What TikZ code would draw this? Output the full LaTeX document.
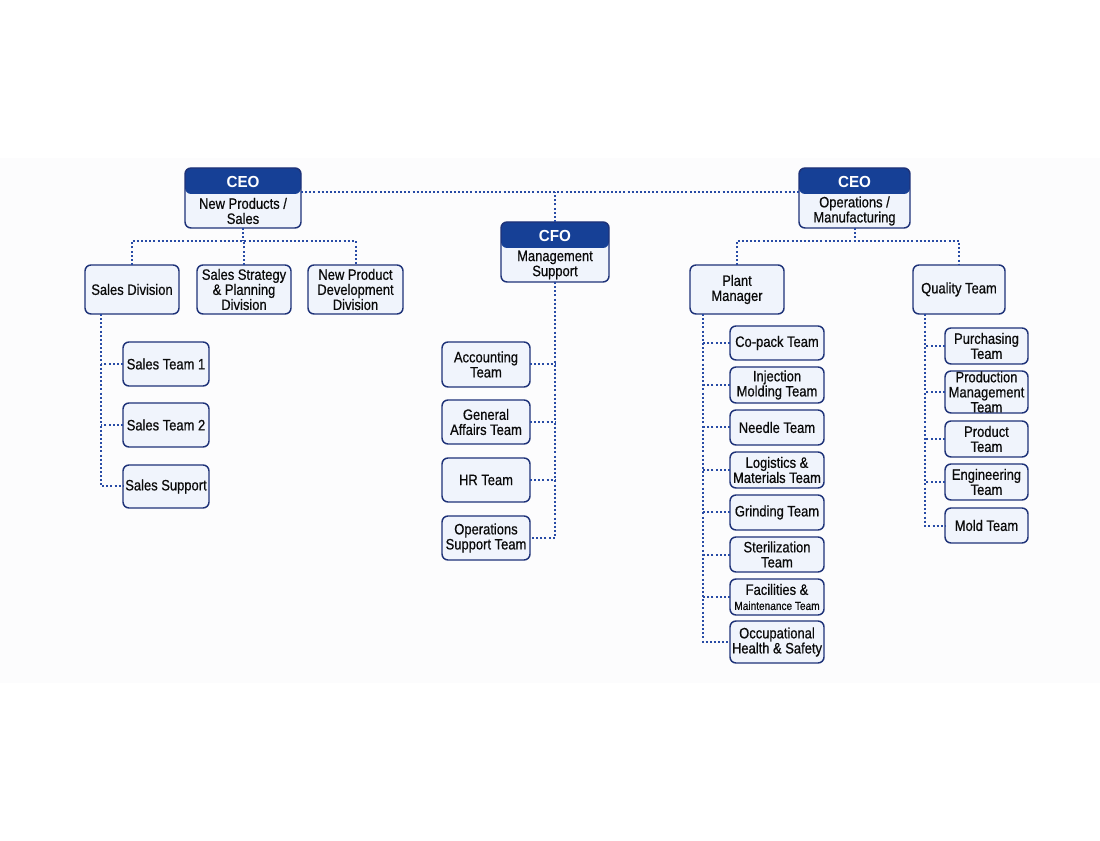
\documentclass[tikz,border=0pt]{standalone}
\usepackage{fontspec}
\setmainfont[FakeStretch=0.86,FakeBold=0.6]{Liberation Sans}
\newfontfamily\hfont[FakeStretch=0.95]{Liberation Sans}
\usetikzlibrary{calc}
\definecolor{hdr}{RGB}{22,64,150}
\definecolor{bfill}{RGB}{240,244,252}
\definecolor{bdraw}{RGB}{30,50,120}
\definecolor{lnk}{RGB}{40,75,165}
\definecolor{txt}{RGB}{10,10,10}
\definecolor{bgc}{RGB}{252,252,253}
\newcommand\bx[6]{\node[box, minimum width={(#4-#2)*0.75pt}, minimum height={(#5-#3)*0.75pt}] (#1) at ({(#2+#4)/2},{(#3+#5)/2}) {#6};}
\newcommand\hb[7]{\node[hbox, minimum width={(#4-#2)*0.75pt}, minimum height={(#5-#3)*0.75pt}] (#1) at ({(#2+#4)/2},{(#3+#5)/2}) {};
  \node[ttl] (#1-t) at ({(#2+#4)/2},{#3+13.5}) {#6};
  \node[btxt] (#1-b) at ({(#2+#4)/2},{(#3+26+#5)/2}) {#7};}
\begin{document}
\begin{tikzpicture}[x=0.75pt,y=-0.75pt,
 box/.style={draw=bdraw, fill=bfill, line width=1.1pt, rounded corners=4.5pt, align=center, inner sep=0pt, outer sep=0pt, font=\fontsize{11.3}{11.3}\selectfont, text=txt},
 hbox/.style={box, path picture={\fill[hdr] (path picture bounding box.north west) rectangle ([yshift=-19.5pt]path picture bounding box.north east);}},
 btxt/.style={align=center, inner sep=0pt, font=\fontsize{11.3}{11.3}\selectfont, text=txt},
 link/.style={draw=lnk, line width=1.5pt, dash pattern=on 1.5pt off 1.6pt},
 ttl/.style={text=white, inner sep=0pt, font=\hfont\bfseries\fontsize{12}{12}\selectfont},
]
\useasboundingbox (0,0) rectangle (1100,841);
\fill[bgc] (0,158) rectangle (1100,683);

% top level
\hb{ceoL}{185}{168}{301}{228}{CEO}{New Products /\\Sales}
\hb{cfo}{501}{222}{609}{282}{CFO}{Management\\Support}
\hb{ceoR}{799}{168}{910}{228}{CEO}{Operations /\\Manufacturing}

% left divisions
\bx{sdiv}{85}{265}{179}{314}{Sales Division}
\bx{sstr}{197}{265}{291}{314}{Sales Strategy\\\& Planning\\Division}
\bx{npd}{308}{265}{403}{314}{New Product\\Development\\Division}
\bx{st1}{123}{342}{209}{386}{Sales Team 1}
\bx{st2}{123}{403}{209}{447}{Sales Team 2}
\bx{ssup}{123}{465}{209}{508}{Sales Support}

% CFO teams
\bx{acc}{442}{342}{530}{387}{Accounting\\Team}
\bx{gat}{442}{400}{530}{444}{General\\Affairs Team}
\bx{hrt}{442}{458}{530}{502}{HR Team}
\bx{ost}{442}{516}{530}{560}{Operations\\Support Team}

% right divisions
\bx{pm}{690}{265}{784}{314}{Plant\\Manager}
\bx{qt}{913}{265}{1005}{314}{Quality Team}

\bx{p1}{730}{326}{824}{360}{Co-pack Team}
\bx{p2}{730}{367}{824}{403}{Injection\\Molding Team}
\bx{p3}{730}{410}{824}{445}{Needle Team}
\bx{p4}{730}{452}{824}{488}{Logistics \&\\Materials Team}
\bx{p5}{730}{495}{824}{530}{Grinding Team}
\bx{p6}{730}{537}{824}{572}{Sterilization\\Team}
\bx{p7}{730}{579}{824}{615}{Facilities \&\\{\fontsize{8.8}{10}\selectfont Maintenance Team}}
\bx{p8}{730}{621}{824}{663}{Occupational\\Health \& Safety}

\bx{q1}{945}{328}{1028}{364}{Purchasing\\Team}
\bx{q2}{945}{371}{1028}{413}{\fontsize{11.3}{10.5}\selectfont Production\\Management\\Team}
\bx{q3}{945}{421}{1028}{457}{Product\\Team}
\bx{q4}{945}{464}{1028}{500}{Engineering\\Team}
\bx{q5}{945}{508}{1028}{543}{Mold Team}

% connectors: top
\coordinate (tl) at ($(ceoL.north east)+(0,24)$);
\draw[link] (tl) -- (tl -| ceoR.west);
\draw[link] (cfo.north) -- (cfo.north |- tl);

% left CEO tree
\coordinate (jl) at ($(ceoL.south)+(0,13)$);
\draw[link] (ceoL.south) -- (jl);
\draw[link] (sdiv.north) -- (sdiv.north |- jl) -- (npd.north |- jl) -- (npd.north);
\draw[link] (sstr.north) -- (sstr.north |- jl);
\coordinate (vs) at ($(sdiv.south west)+(16,0)$);
\draw[link] (vs) |- (ssup.west);
\draw[link] (st1.west) -- (st1.west -| vs);
\draw[link] (st2.west) -- (st2.west -| vs);

% CFO tree
\draw[link] (cfo.south) |- (ost.east);
\draw[link] (acc.east) -- (acc.east -| cfo.south);
\draw[link] (gat.east) -- (gat.east -| cfo.south);
\draw[link] (hrt.east) -- (hrt.east -| cfo.south);

% right CEO tree
\coordinate (jr) at ($(ceoR.south)+(0,13)$);
\draw[link] (ceoR.south) -- (jr);
\draw[link] (pm.north) -- (pm.north |- jr) -- (qt.north |- jr) -- (qt.north);

\coordinate (vp) at ($(pm.south west)+(13,0)$);
\draw[link] (vp) |- (p8.west);
\foreach \n in {p1,p2,p3,p4,p5,p6,p7} \draw[link] (\n.west) -- (\n.west -| vp);

\coordinate (vq) at ($(qt.south west)+(12,0)$);
\draw[link] (vq) |- (q5.west);
\foreach \n in {q1,q2,q3,q4} \draw[link] (\n.west) -- (\n.west -| vq);
\end{tikzpicture}
\end{document}
